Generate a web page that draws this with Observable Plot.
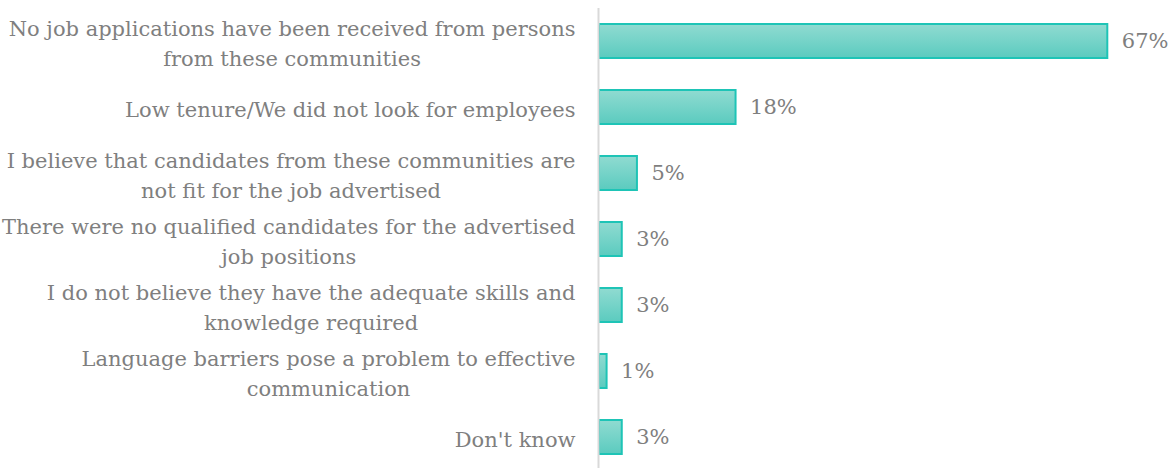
<!DOCTYPE html>
<html><head><meta charset="utf-8">
<script src="https://cdn.jsdelivr.net/npm/d3@7"></script>
<script src="https://cdn.jsdelivr.net/npm/@observablehq/plot@0.6"></script>
<style>body{margin:0;background:#fff}</style>
</head><body><div id="chart"></div>
<script>
const categories = [
  "No job applications have been received from persons\nfrom these communities",
  "Low tenure/We did not look for employees",
  "I believe that candidates from these communities are\nnot fit for the job advertised",
  "There were no qualified candidates for the advertised\njob positions",
  "I do not believe they have the adequate skills and\nknowledge required",
  "Language barriers pose a problem to effective\ncommunication",
  "Don't know"
];
const values = [67, 18, 5, 3, 3, 1, 3];
const valueLabels = ["67%", "18%", "5%", "3%", "3%", "1%", "3%"];
const data = categories.map((c, i) => ({category: c, value: values[i], label: valueLabels[i]}));

const FONT = '"Palatino Linotype","Book Antiqua",Palatino,"DejaVu Serif",serif';
const GRAY = "#7f7f7f";

const plot = Plot.plot({
  width: 1172, height: 468,
  marginLeft: 599, marginRight: 4, marginTop: 10, marginBottom: 0,
  style: {fontFamily: FONT, fontSize: "21px", color: GRAY, background: "#fff"},
  x: {domain: [0, 75], axis: null},
  y: {domain: categories, axis: null, paddingInner: 0.49, paddingOuter: 0.2},
  marks: [
    Plot.barX(data, {x: "value", y: "category", fill: "url(#barGrad)", stroke: "#1ec4b6", strokeWidth: 2}),
    Plot.ruleX([0], {stroke: "#d9d9d9", strokeWidth: 2, insetTop: -2, dx: -1}),
    Plot.text(data, {x: "value", y: "category", text: "label", textAnchor: "start", dx: 14, fill: GRAY, fontSize: 21}),
    Plot.text(data, {y: "category", text: "category", frameAnchor: "left", textAnchor: "end", dx: -24,
      lineHeight: 1.4, fill: GRAY, fontSize: 21})
  ]
});

const grad = d3.select(plot).insert("defs", ":first-child")
  .append("linearGradient").attr("id", "barGrad")
  .attr("x1", 0).attr("y1", 0).attr("x2", 0).attr("y2", 1);
grad.append("stop").attr("offset", "0%").attr("stop-color", "#90dbd1");
grad.append("stop").attr("offset", "100%").attr("stop-color", "#5bcbbf");

document.getElementById("chart").appendChild(plot);

// center the lines of each multi-line label within its right-aligned block
const flat = new Set(categories.map(c => c.replace(/\n/g, "")));
plot.querySelectorAll("text").forEach(t => {
  if (!flat.has(t.textContent)) return;
  const spans = t.querySelectorAll("tspan");
  if (spans.length < 2) return;
  const w = t.getBBox().width;
  t.setAttribute("text-anchor", "middle");
  t.style.textAnchor = "middle";
  spans.forEach(s => { s.setAttribute("text-anchor", "middle"); s.style.textAnchor = "middle"; });
  const tr = t.getAttribute("transform");
  if (tr) {
    t.setAttribute("transform", tr + ` translate(${-w / 2},0)`);
  } else {
    const x = +(t.getAttribute("x") || 0) - w / 2;
    t.setAttribute("x", x);
    spans.forEach(s => { if (s.hasAttribute("x")) s.setAttribute("x", +s.getAttribute("x") - w / 2); });
  }
});
</script>
</body></html>
